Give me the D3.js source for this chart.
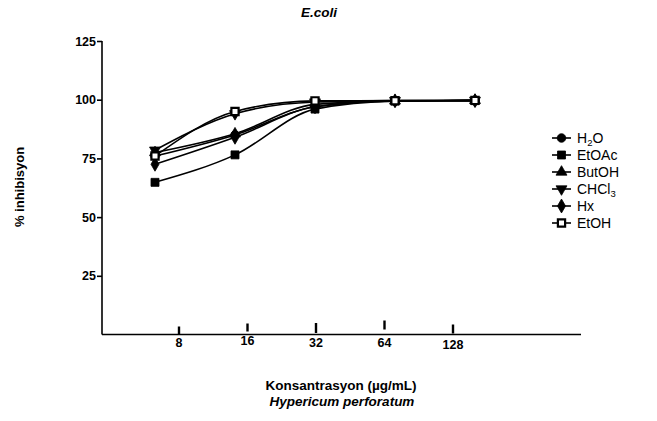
<!DOCTYPE html>
<html>
<head>
<meta charset="utf-8">
<script src="https://cdn.jsdelivr.net/npm/d3@7"></script>
<style>
  html, body { margin: 0; padding: 0; background: #fff; }
  svg { display: block; }
  text { font-family: "Liberation Sans", Arial, sans-serif; fill: #000; }
</style>
</head>
<body>
<svg id="chart" width="657" height="421"></svg>
<script>
// Concentrations (µg/mL) and % inhibition for each extract
const concentrations = [8, 16, 32, 64, 128];
const tickLabels = ["8", "16", "32", "64", "128"];
const yTicks = [25, 50, 75, 100, 125];

const seriesNames = ["H2O", "EtOAc", "ButOH", "CHCl3", "Hx", "EtOH"];
const h2o   = [76.0, 85.0, 97.0, 99.5, 99.6];
const etoac = [64.8, 76.5, 96.0, 99.4, 99.6];
const butoh = [77.5, 85.5, 98.0, 99.5, 99.7];
const chcl3 = [78.5, 94.0, 99.0, 99.6, 99.7];
const hx    = [72.5, 84.0, 97.0, 99.5, 99.6];
const etoh  = [76.0, 95.0, 99.5, 99.6, 99.7];
const seriesValues = [h2o, etoac, butoh, chcl3, hx, etoh];

const svg = d3.select("#chart");

// Plot frame
const x = d3.scaleLog().base(2).domain([8, 128]).range([155, 475]);
const y = d3.scaleLinear().domain([0, 125]).range([334.5, 41]);
// Category labels sit on their own spacing along the axis
const xTick = d3.scaleLog().base(2).domain([8, 128]).range([179, 453]);
const axisLeft = 102, axisRight = 581;

// Y axis
const yAxis = svg.append("g").attr("transform", `translate(${axisLeft},0)`)
  .call(d3.axisLeft(y).tickValues(yTicks).tickSize(5).tickSizeOuter(0).tickPadding(1));
yAxis.select(".domain").attr("d", `M0,${y(125)}V${y(0)}`).attr("stroke", "#000").attr("stroke-width", 1.6);
yAxis.selectAll(".tick line").attr("stroke", "#000").attr("stroke-width", 1.6);
yAxis.selectAll(".tick text")
  .attr("font-size", 12.5).attr("font-weight", "bold")
  .attr("font-family", "\"Liberation Sans\", Arial, sans-serif").attr("fill", "#000");

// X axis baseline
svg.append("line")
  .attr("x1", axisLeft).attr("x2", axisRight)
  .attr("y1", y(0)).attr("y2", y(0))
  .attr("stroke", "#000").attr("stroke-width", 1.6);

// X ticks stand above the baseline, slightly staggered
const tickLift = [[0, 8], [3, 8], [1.5, 10], [5, 9], [1, 9]];
const labelDrop = [12, 10, 12, 12, 14];
const xt = svg.append("g");
concentrations.forEach((c, i) => {
  const px = xTick(c);
  xt.append("line")
    .attr("x1", px).attr("x2", px)
    .attr("y1", y(0) - tickLift[i][0]).attr("y2", y(0) - tickLift[i][0] - tickLift[i][1])
    .attr("stroke", "#000").attr("stroke-width", 2.4);
  xt.append("text")
    .attr("x", px).attr("y", y(0) + labelDrop[i])
    .attr("text-anchor", "middle")
    .attr("font-size", 12.5).attr("font-weight", "bold")
    .text(tickLabels[i]);
});

// Titles
svg.append("text").attr("x", 319).attr("y", 17).attr("text-anchor", "middle")
  .attr("font-size", 13.5).attr("font-weight", "bold").attr("font-style", "italic").text("E.coli");
svg.append("text").attr("transform", "translate(24,187) rotate(-90)").attr("text-anchor", "middle")
  .attr("font-size", 13).attr("font-weight", "bold").text("% inhibisyon");
svg.append("text").attr("x", 341).attr("y", 390).attr("text-anchor", "middle")
  .attr("font-size", 13.5).attr("font-weight", "bold").text("Konsantrasyon (µg/mL)");
svg.append("text").attr("x", 342).attr("y", 406).attr("text-anchor", "middle")
  .attr("font-size", 13.5).attr("font-weight", "bold").attr("font-style", "italic").text("Hypericum perforatum");

// Marker shapes per series
const markerTypes = [
  { sym: d3.symbolCircle, size: 58, fill: "#000" },
  { sym: d3.symbolSquare, size: 64, fill: "#000" },
  { sym: d3.symbolTriangle, size: 52, fill: "#000" },
  { sym: d3.symbolTriangle, size: 52, fill: "#000", rot: 180 },
  { sym: d3.symbolDiamond, size: 56, fill: "#000" },
  { sym: d3.symbolSquare, size: 52, fill: "#fff", stroke: 2.2 }
];
function drawMarker(g, m, cx, cy) {
  g.append("path")
    .attr("d", d3.symbol().type(m.sym).size(m.size)())
    .attr("transform", `translate(${cx},${cy})${m.rot ? ` rotate(${m.rot})` : ""}`)
    .attr("fill", m.fill)
    .attr("stroke", "#000")
    .attr("stroke-width", m.stroke || 0.8);
}

const line = d3.line().x(d => x(d[0])).y(d => y(d[1])).curve(d3.curveMonotoneX);
const plot = svg.append("g");
seriesValues.forEach((vals, s) => {
  const pts = concentrations.map((c, i) => [c, vals[i]]);
  plot.append("path").datum(pts).attr("d", line)
    .attr("fill", "none").attr("stroke", "#000").attr("stroke-width", 1.6);
});
seriesValues.forEach((vals, s) => {
  concentrations.forEach((c, i) => drawMarker(plot, markerTypes[s], x(c), y(vals[i])));
});

// Legend
const legend = svg.append("g");
seriesNames.forEach((name, s) => {
  const ly = 138 + s * 17;
  legend.append("line").attr("x1", 552).attr("x2", 571).attr("y1", ly).attr("y2", ly)
    .attr("stroke", "#000").attr("stroke-width", 1.6);
  drawMarker(legend, markerTypes[s], 561.5, ly);
  const t = legend.append("text").attr("x", 577).attr("y", ly + 5).attr("font-size", 14);
  if (name === "H2O") {
    t.append("tspan").text("H");
    t.append("tspan").attr("font-size", 9.5).attr("dy", 3).text("2");
    t.append("tspan").attr("dy", -3).text("O");
  } else if (name === "CHCl3") {
    t.append("tspan").text("CHCl");
    t.append("tspan").attr("font-size", 9.5).attr("dy", 3).text("3");
  } else {
    t.text(name);
  }
});
</script>
</body>
</html>
